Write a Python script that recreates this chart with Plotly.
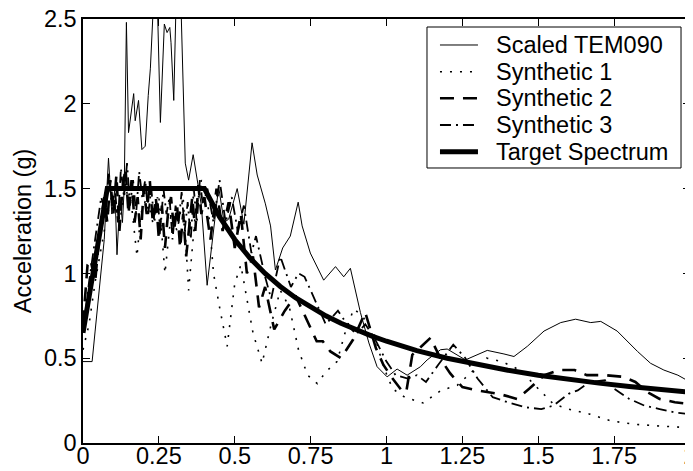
import plotly.graph_objects as go

# Scaled TEM090 record (thin solid line)
tem_period = [0, 0.03, 0.04, 0.05, 0.06, 0.07, 0.084, 0.095, 0.105, 0.112, 0.122, 0.13, 0.136, 0.143, 0.150,
              0.158, 0.167, 0.172, 0.178, 0.183, 0.194, 0.205, 0.215, 0.222, 0.235, 0.245, 0.255, 0.268, 0.277,
              0.286, 0.290, 0.299, 0.308, 0.321, 0.337, 0.348, 0.363, 0.376, 0.390, 0.409, 0.43, 0.447, 0.465,
              0.480, 0.508, 0.530, 0.557, 0.574, 0.601, 0.618, 0.634, 0.658, 0.683, 0.709, 0.722, 0.749, 0.793,
              0.832, 0.859, 0.881, 0.914, 0.942, 0.969, 1.002, 1.035, 1.068, 1.112, 1.134, 1.178, 1.200, 1.260,
              1.288, 1.332, 1.387, 1.420, 1.464, 1.519, 1.574, 1.623, 1.673, 1.706, 1.760, 1.827, 1.870, 1.914,
              1.960, 2.0]
tem_accel = [0.48, 0.48, 0.66, 0.85, 1.05, 1.2, 1.68, 1.35, 1.5, 1.11, 1.45, 1.3, 1.51, 2.48, 1.83,
             1.95, 2.06, 1.90, 1.98, 2.02, 1.73, 1.75, 2.05, 2.21, 2.7, 2.6, 1.89, 2.47, 2.42,
             2.45, 2.36, 2.02, 2.7, 2.7, 1.65, 1.55, 1.70, 1.55, 1.40, 0.93, 1.26, 1.51, 1.30,
             1.32, 1.50, 1.29, 1.77, 1.58, 1.41, 1.28, 1.02, 1.15, 1.22, 1.42, 1.28, 1.12, 0.96,
             1.04, 0.98, 1.03, 0.77, 0.59, 0.45, 0.39, 0.436, 0.40, 0.45, 0.49, 0.55, 0.554, 0.49,
             0.51, 0.546, 0.525, 0.51, 0.57, 0.66, 0.71, 0.73, 0.71, 0.717, 0.66, 0.54, 0.47, 0.43,
             0.40, 0.36]

# Synthetic 1 (dotted)
syn1_period = [0, 0.02, 0.04, 0.06, 0.08, 0.10, 0.12, 0.14, 0.16, 0.178, 0.19, 0.21, 0.23, 0.25, 0.27,
               0.29, 0.31, 0.33, 0.348, 0.37, 0.39, 0.41, 0.43, 0.45, 0.475, 0.50, 0.52, 0.54, 0.56, 0.59,
               0.62, 0.65, 0.68, 0.71, 0.74, 0.772, 0.80, 0.837, 0.865, 0.892, 0.92, 0.958, 0.99, 1.02, 1.06,
               1.12, 1.18, 1.233, 1.28, 1.33, 1.38, 1.44, 1.50, 1.55, 1.60, 1.67, 1.74, 1.82, 1.90, 2.0]
syn1_accel = [0.55, 0.70, 0.95, 1.15, 1.35, 1.45, 1.30, 1.50, 1.40, 1.10, 1.35, 1.45, 1.30, 1.45, 1.00,
              1.35, 1.25, 1.45, 0.90, 1.35, 1.55, 1.45, 1.00, 0.80, 0.57, 0.94, 1.05, 0.85, 0.65, 0.47,
              0.70, 0.90, 0.80, 0.55, 0.40, 0.35, 0.42, 0.48, 0.66, 0.79, 0.75, 0.65, 0.45, 0.32, 0.27,
              0.236, 0.31, 0.34, 0.42, 0.50, 0.48, 0.43, 0.32, 0.23, 0.20, 0.17, 0.13, 0.11, 0.10, 0.09]

# Synthetic 2 (dashed)
syn2_period = [0, 0.015, 0.025, 0.04, 0.055, 0.07, 0.08, 0.09, 0.10, 0.11, 0.12, 0.13, 0.14, 0.15, 0.16,
               0.17, 0.18, 0.19, 0.20, 0.21, 0.22, 0.23, 0.24, 0.25, 0.26, 0.27, 0.28, 0.29, 0.30, 0.31,
               0.32, 0.33, 0.34, 0.35, 0.36, 0.37, 0.38, 0.39, 0.40, 0.42, 0.44, 0.46, 0.48, 0.50, 0.52,
               0.54, 0.56, 0.58, 0.60, 0.63, 0.665, 0.70, 0.745, 0.77, 0.79, 0.815, 0.85, 0.89, 0.93, 0.965,
               0.99, 1.02, 1.05, 1.065, 1.085, 1.145, 1.18, 1.21, 1.25, 1.30, 1.37, 1.43, 1.47, 1.52, 1.57,
               1.62, 1.66, 1.72, 1.78, 1.82, 1.86, 1.90, 1.95, 2.0]
syn2_accel = [0.70, 1.05, 1.08, 0.95, 1.25, 1.45, 1.30, 1.55, 1.35, 1.58, 1.25, 1.50, 1.62, 1.35, 1.55,
              1.30, 1.45, 1.20, 1.50, 1.35, 1.55, 1.30, 1.45, 1.20, 1.40, 1.15, 1.35, 1.45, 1.25, 1.40,
              1.15, 1.35, 1.10, 1.30, 1.45, 1.25, 1.52, 1.35, 1.45, 1.20, 1.50, 1.25, 1.42, 1.15, 1.35,
              1.00, 1.10, 0.80, 0.92, 0.67, 0.78, 0.87, 0.69, 0.60, 0.60, 0.54, 0.50, 0.61, 0.77, 0.56,
              0.46, 0.38, 0.31, 0.30, 0.52, 0.62, 0.49, 0.41, 0.33, 0.31, 0.29, 0.26, 0.32, 0.40, 0.43,
              0.43, 0.40, 0.40, 0.39, 0.36, 0.30, 0.26, 0.24, 0.23]

# Synthetic 3 (dash-dot)
syn3_period = [0, 0.02, 0.04, 0.06, 0.075, 0.085, 0.095, 0.105, 0.115, 0.125, 0.135, 0.145, 0.155, 0.165,
               0.175, 0.185, 0.195, 0.205, 0.215, 0.225, 0.235, 0.245, 0.255, 0.265, 0.275, 0.285, 0.295,
               0.305, 0.315, 0.325, 0.335, 0.345, 0.355, 0.365, 0.375, 0.385, 0.395, 0.41, 0.43, 0.45, 0.47,
               0.49, 0.51, 0.53, 0.555, 0.57, 0.60, 0.62, 0.65, 0.685, 0.71, 0.73, 0.775, 0.80, 0.84, 0.87,
               0.90, 0.93, 0.96, 1.00, 1.03, 1.07, 1.10, 1.13, 1.17, 1.22, 1.26, 1.30, 1.35, 1.40, 1.46, 1.51,
               1.55, 1.60, 1.63, 1.67, 1.72, 1.75, 1.80, 1.85, 1.90, 1.95, 2.0]
syn3_accel = [0.65, 0.95, 1.20, 1.45, 1.35, 1.60, 1.40, 1.50, 1.30, 1.62, 1.45, 1.65, 1.40, 1.55,
              1.35, 1.60, 1.45, 1.55, 1.35, 1.50, 1.30, 1.45, 1.25, 1.50, 1.35, 1.45, 1.20,
              1.40, 1.30, 1.48, 1.25, 1.42, 1.20, 1.50, 1.30, 1.55, 1.40, 1.50, 1.30, 1.55, 1.30,
              1.45, 1.25, 1.40, 1.12, 1.22, 0.98, 0.85, 1.10, 0.92, 1.00, 0.98, 0.80, 0.70, 0.78, 0.70,
              0.64, 0.70, 0.62, 0.48, 0.40, 0.38, 0.40, 0.36, 0.46, 0.58, 0.50, 0.38, 0.27, 0.24, 0.21, 0.20,
              0.22, 0.29, 0.31, 0.36, 0.37, 0.32, 0.26, 0.22, 0.20, 0.18, 0.17]

# Target design spectrum (thick line)
target_period = [0, 0.08, 0.40, 0.45, 0.50, 0.55, 0.60, 0.65, 0.70, 0.75, 0.80, 0.85, 0.90, 0.95, 1.00,
                 1.10, 1.20, 1.30, 1.40, 1.50, 1.60, 1.70, 1.80, 1.90, 2.00]
target_accel = [0.65, 1.50, 1.50, 1.333, 1.20, 1.091, 1.00, 0.923, 0.857, 0.80, 0.75, 0.706, 0.667, 0.632, 0.60,
                0.545, 0.50, 0.462, 0.429, 0.40, 0.375, 0.353, 0.333, 0.316, 0.30]

x_ticks = [0, 0.25, 0.5, 0.75, 1, 1.25, 1.5, 1.75, 2]
x_labels = ['0', '0.25', '0.5', '0.75', '1', '1.25', '1.5', '1.75', '2']
y_ticks = [0, 0.5, 1, 1.5, 2, 2.5]
y_labels = ['0', '0.5', '1', '1.5', '2', '2.5']

series_names = ['Scaled TEM090', 'Synthetic 1', 'Synthetic 2', 'Synthetic 3', 'Target Spectrum']
series_x = [tem_period, syn1_period, syn2_period, syn3_period, target_period]
series_y = [tem_accel, syn1_accel, syn2_accel, syn3_accel, target_accel]
line_widths = [1, 1.6, 2.6, 1.8, 5]
line_dashes = ['solid', '2px,8px', '14px,9px', '11px,5px,2px,5px', 'solid']

font_family = 'Liberation Sans, Arial, Helvetica, sans-serif'

fig = go.Figure()

for name, xs, ys, w, d in zip(series_names, series_x, series_y, line_widths, line_dashes):
    fig.add_trace(go.Scatter(x=xs, y=ys, mode='lines', name=name, showlegend=False,
                             line=dict(color='black', width=w, dash=d)))

# boxed legend in the upper right, MATLAB style (tight row spacing)
leg_x0, leg_x1, leg_y0, leg_y1 = 0.5667, 0.9852, 0.6486, 0.9811
fig.add_shape(type='rect', xref='paper', yref='paper', x0=leg_x0, x1=leg_x1, y0=leg_y0, y1=leg_y1,
              line=dict(color='black', width=1), fillcolor='white', layer='above')
row_y = [0.9387, 0.8757, 0.8130, 0.7500, 0.6870]
for name, w, d, ry in zip(series_names, line_widths, line_dashes, row_y):
    fig.add_shape(type='line', xref='paper', yref='paper', x0=0.5881, x1=0.6507, y0=ry, y1=ry,
                  line=dict(color='black', width=w, dash=d), layer='above')
    fig.add_annotation(xref='paper', yref='paper', x=0.6771, y=ry, text=name, showarrow=False,
                       xanchor='left', yanchor='middle',
                       font=dict(family=font_family, size=23.5, color='black'))

axis_common = dict(
    showgrid=False, zeroline=False, automargin=False,
    showline=True, linecolor='black', linewidth=1.5, mirror='ticks',
    ticks='inside', ticklen=7, tickwidth=1, tickcolor='black',
    ticklabeloverflow='allow',
    tickfont=dict(family=font_family, size=23.5, color='black'),
)

fig.update_xaxes(range=[0, 2], tickmode='array', tickvals=x_ticks, ticktext=x_labels,
                 ticklabelstandoff=-9, **axis_common)
fig.update_yaxes(range=[0, 2.5], tickmode='array', tickvals=y_ticks, ticktext=y_labels,
                 title=dict(text='Acceleration (g)', font=dict(family=font_family, size=23.5, color='black'),
                            standoff=6),
                 **axis_common)

# the page body adds an 8px offset, so the figure is 8px smaller than the window
fig.update_layout(
    width=685, height=463,
    margin=dict(l=75, r=3, t=11, b=28),
    paper_bgcolor='white', plot_bgcolor='white',
    font=dict(family=font_family, color='black'),
    showlegend=False,
)

fig.write_html("out.html")
